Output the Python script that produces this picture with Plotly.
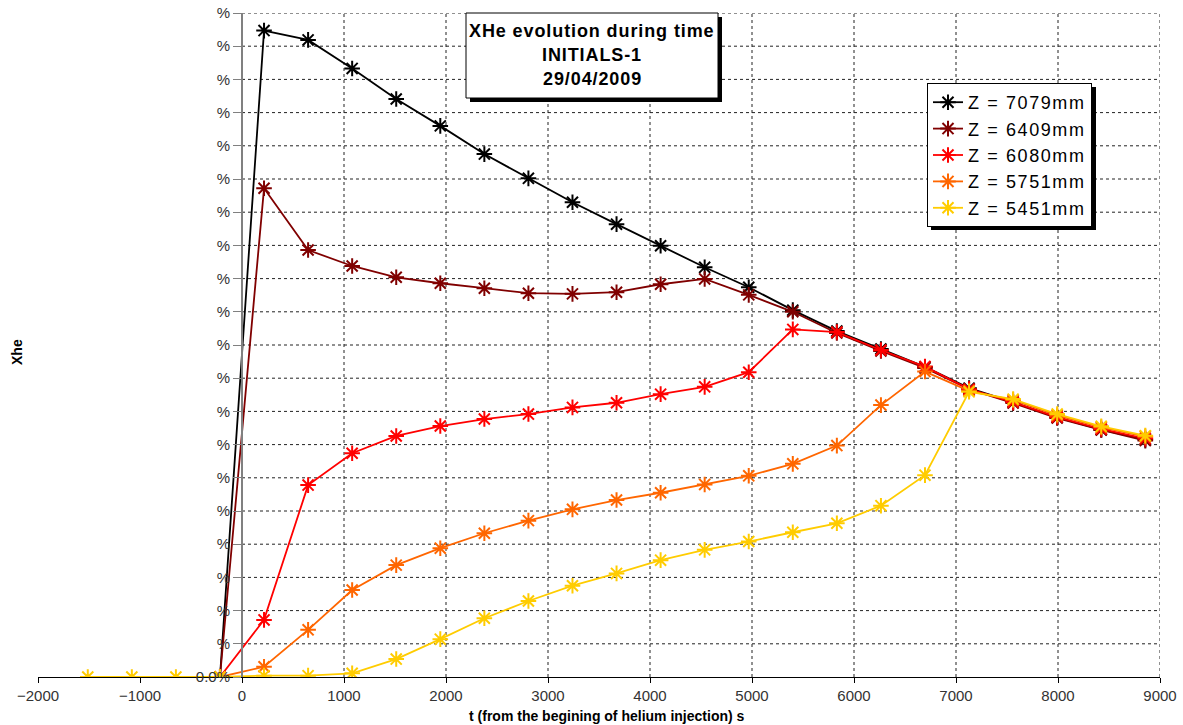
import plotly.graph_objects as go

# ---------------- data ----------------
t_main = [-216, 216, 648, 1080, 1512, 1944, 2376, 2808, 3240, 3672, 4104,
          4536, 4968, 5400, 5832, 6264, 6696, 7128, 7560, 7992, 8424, 8856]
t_yellow = [-1512, -1080, -648] + t_main

z7079 = [0, 19.47, 19.19, 18.33, 17.41, 16.60, 15.75, 15.02, 14.30, 13.64, 12.99,
         12.34, 11.74, 11.05, 10.42, 9.88, 9.34, 8.70, 8.28, 7.82, 7.45, 7.15]
z6409 = [0, 14.72, 12.86, 12.38, 12.04, 11.86, 11.71, 11.56, 11.54, 11.59, 11.83,
         11.99, 11.51, 11.00, 10.36, 9.82, 9.31, 8.67, 8.25, 7.80, 7.44, 7.12]
z6080 = [0, 1.72, 5.78, 6.74, 7.26, 7.56, 7.77, 7.92, 8.12, 8.26, 8.52,
         8.74, 9.18, 10.47, 10.39, 9.85, 9.35, 8.67, 8.28, 7.83, 7.47, 7.18]
z5751 = [0, 0.31, 1.42, 2.62, 3.37, 3.88, 4.33, 4.71, 5.05, 5.33, 5.55,
         5.80, 6.06, 6.42, 6.97, 8.19, 9.20, 8.62, 8.34, 7.88, 7.52, 7.24]
z5451 = [0, 0, 0, 0, 0.04, 0.04, 0.11, 0.54, 1.14, 1.77, 2.29, 2.75, 3.12, 3.52,
         3.83, 4.08, 4.36, 4.63, 5.16, 6.08, 8.59, 8.37, 7.92, 7.55, 7.27]

series_names = ["Z = 7079mm", "Z = 6409mm", "Z = 6080mm", "Z = 5751mm", "Z = 5451mm"]
series_colors = ["#000000", "#800000", "#ff0000", "#ff6600", "#ffcc00"]

x_ticks = list(range(-2000, 9001, 1000))
x_grid = list(range(1000, 9001, 1000))
y_ticks = list(range(0, 21))
y_ticktext = ["0.0%"] + ["%"] * 20

title_lines = ["XHe evolution during time", "INITIALS-1", "29/04/2009"]
x_title = "t (from the begining of helium injection) s"
y_title = "Xhe"

# ---------------- figure ----------------
FONT = "Liberation Sans, Arial, sans-serif"
W, H = 1183, 725
ML, MR, MT, MB = 38, 23, 13, 48
PW, PH = W - ML - MR, H - MT - MB


def px_x(p):
    return (p - ML) / PW


def px_y(p):
    return (H - MB - p) / PH


def spaced(s, sp):
    return '<span style="letter-spacing:%spx">%s</span>' % (sp, s)


fig = go.Figure()
all_x = [t_main, t_main, t_main, t_main, t_yellow]
all_y = [z7079, z6409, z6080, z5751, z5451]
for name, col, xs, ys in zip(series_names, series_colors, all_x, all_y):
    fig.add_trace(go.Scatter(
        x=xs, y=ys, name=spaced(name, 1.6), mode="lines+markers",
        line=dict(color=col, width=1.8),
        marker=dict(symbol="asterisk-open", size=13,
                    line=dict(color=col, width=2), color=col),
    ))

shapes = []
for gx in x_grid:
    shapes.append(dict(type="line", xref="x", yref="y", x0=gx, x1=gx,
                       y0=0, y1=y_ticks[-1], layer="below",
                       line=dict(color="#222222", width=1, dash="3px,3px")))
for gy in y_ticks[1:]:
    shapes.append(dict(type="line", xref="x", yref="y", x0=0, x1=x_grid[-1],
                       y0=gy, y1=gy, layer="below",
                       line=dict(color="#222222", width=1, dash="3px,3px")))

# title box with shadow
bx0, bx1, by0, by1 = 466, 718, 13, 98
shapes.append(dict(type="rect", xref="paper", yref="paper",
                   x0=px_x(bx0 + 4), x1=px_x(bx1 + 4), y0=px_y(by1 + 4), y1=px_y(by0 + 4),
                   fillcolor="black", line=dict(width=0)))
shapes.append(dict(type="rect", xref="paper", yref="paper",
                   x0=px_x(bx0), x1=px_x(bx1), y0=px_y(by1), y1=px_y(by0),
                   fillcolor="white", line=dict(color="black", width=1)))
# legend shadow
lx0, lx1, ly0, ly1 = 927, 1092, 83, 226
shapes.append(dict(type="rect", xref="paper", yref="paper",
                   x0=px_x(lx0 + 4), x1=px_x(lx1 + 4), y0=px_y(ly1 + 4), y1=px_y(ly0 + 4),
                   fillcolor="black", line=dict(width=0)))

annotations = []
for i, line in enumerate(title_lines):
    annotations.append(dict(text="<b>" + spaced(line, 0.9) + "</b>", xref="paper", yref="paper",
                            x=px_x((bx0 + bx1) / 2), y=px_y(31 + 24 * i),
                            xanchor="center", yanchor="middle", showarrow=False,
                            font=dict(family=FONT, size=18, color="black")))
annotations.append(dict(text="<b>" + x_title + "</b>", xref="paper", yref="paper",
                        x=px_x(607), y=px_y(716), xanchor="center", yanchor="middle",
                        showarrow=False, font=dict(family=FONT, size=14, color="black")))
annotations.append(dict(text="<b>" + y_title + "</b>", xref="paper", yref="paper",
                        x=px_x(17), y=px_y(352), xanchor="center", yanchor="middle",
                        textangle=-90, showarrow=False,
                        font=dict(family=FONT, size=14, color="black")))

fig.update_layout(
    width=W, height=H,
    margin=dict(l=ML, r=MR, t=MT, b=MB, autoexpand=False),
    paper_bgcolor="white", plot_bgcolor="white",
    font=dict(family=FONT, color="#222222"),
    showlegend=True,
    legend=dict(x=px_x(lx0), y=px_y(ly0), xanchor="left", yanchor="top",
                bgcolor="white", bordercolor="black", borderwidth=1,
                font=dict(family=FONT, size=18, color="black"),
                tracegroupgap=0, itemwidth=30),
    xaxis=dict(range=[x_ticks[0], x_ticks[-1]], tickvals=x_ticks, automargin=False,
               showgrid=False, zeroline=False, showline=True,
               linecolor="black", linewidth=1, ticks="outside", ticklen=5,
               tickcolor="black", tickfont=dict(family=FONT, size=15, color="#333333")),
    yaxis=dict(range=[0, y_ticks[-1]], tickvals=y_ticks, ticktext=y_ticktext,
               anchor="free", position=px_x(242), showgrid=False, zeroline=False,
               automargin=False,
               showline=True, linecolor="#808080", linewidth=2, ticks="outside",
               ticklen=8, tickcolor="#808080",
               tickfont=dict(family=FONT, size=15, color="#333333")),
    shapes=shapes,
    annotations=annotations,
)

fig.write_html("out.html")
